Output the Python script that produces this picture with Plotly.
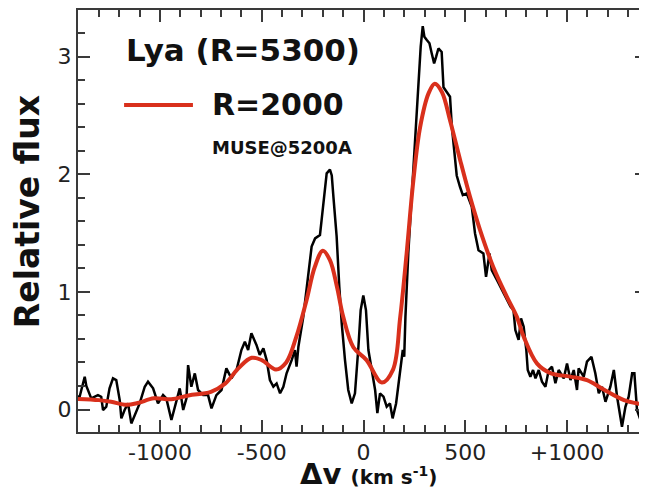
import plotly.graph_objects as go

# ---- data ----
v_obs = [-1403, -1395, -1370, -1362, -1338, -1305, -1289, -1280, -1264, -1248, -1231, -1215,
         -1198, -1190, -1174, -1157, -1141, -1116, -1100, -1075, -1059, -1034, -1010, -985,
         -969, -944, -919, -903, -886, -870, -862, -846, -829, -813, -788, -764, -747, -723,
         -698, -674, -649, -624, -600, -583, -567, -551, -526, -510, -492, -476, -460, -443,
         -427, -410, -394, -378, -353, -337, -329, -320, -296, -271, -255, -238, -222, -214,
         -206, -189, -181, -165, -156, -148, -132, -119, -107, -91, -75, -58, -42, -25, -14,
         -1, 12, 24, 40, 57, 68, 81, 98, 114, 130, 143, 160, 176, 193, 200, 206, 220, 237,
         245, 253, 270, 281, 291, 299, 311, 324, 335, 347, 357, 368, 384, 393, 409, 425, 434,
         450, 458, 474, 488, 507, 532, 548, 565, 589, 602, 619, 630, 656, 689, 704, 722, 737,
         746, 762, 774, 787, 800, 807, 820, 833, 845, 861, 877, 894, 910, 926, 943, 959, 984,
         1000, 1017, 1033, 1049, 1057, 1082, 1098, 1120, 1139, 1156, 1172, 1189, 1213, 1230,
         1246, 1262, 1270, 1287, 1303, 1320, 1331, 1344, 1361, 1377, 1393]
f_obs = [0.11, 0.109, 0.279, 0.20, 0.095, 0.123, 0.109, -0.004, 0.024, 0.180, 0.265, 0.251,
         0.080, -0.075, -0.004, 0.052, -0.118, -0.004, 0.052, 0.194, 0.237, 0.180, 0.052, 0.123,
         0.095, -0.089, 0.080, 0.180, -0.004, 0.095, 0.378, 0.194, 0.307, 0.166, 0.123, 0.123,
         0.010, 0.123, 0.166, 0.350, 0.265, 0.336, 0.506, 0.577, 0.506, 0.648, 0.549, 0.464,
         0.52, 0.42, 0.251, 0.194, 0.222, 0.138, 0.194, 0.308, 0.42, 0.506, 0.364, 0.534, 0.789,
         1.158, 1.385, 1.455, 1.47, 1.484, 1.61, 1.866, 2.008, 2.04, 1.99, 1.81, 1.47, 1.044,
         0.73, 0.42, 0.166, 0.052, 0.138, 0.534, 0.846, 0.97, 0.846, 0.506, 0.336, 0.166, -0.03,
         0.138, 0.11, 0.025, 0.052, -0.075, 0.052, 0.251, 0.506, 0.45, 0.79, 1.327, 1.838,
         2.093, 2.319, 2.80, 3.085, 3.26, 3.17, 3.142, 3.114, 3.03, 2.943, 3.0, 3.07, 3.04,
         2.74, 2.70, 2.66, 2.405, 2.12, 1.99, 1.894, 1.823, 1.838, 1.724, 1.497, 1.355, 1.327,
         1.129, 1.327, 1.185, 1.10, 0.988, 0.93, 0.875, 0.845, 0.676, 0.592, 0.775, 0.704,
         0.506, 0.336, 0.279, 0.336, 0.265, 0.336, 0.237, 0.194, 0.336, 0.364, 0.223, 0.336,
         0.265, 0.392, 0.251, 0.336, 0.166, 0.350, 0.279, 0.407, 0.449, 0.308, 0.138, 0.194,
         0.066, 0.194, 0.336, 0.109, -0.061, -0.146, 0.023, 0.109, 0.308, 0.308, -0.005,
         -0.089, -0.061, -0.019]

v_smooth = [-1403, -1300, -1240, -1165, -1110, -1030, -945, -860, -750, -680, -615, -550,
            -500, -430, -380, -330, -280, -240, -200, -165, -130, -100, -50, 15, 90, 145, 180,
            212, 245, 278, 320, 350, 385, 425, 475, 523, 572, 638, 704, 753, 787, 853, 918,
            1016, 1098, 1180, 1280, 1377, 1393]
f_smooth = [0.09, 0.08, 0.066, 0.04, 0.055, 0.095, 0.087, 0.12, 0.15, 0.22, 0.35, 0.44,
            0.42, 0.34, 0.40, 0.62, 0.93, 1.21, 1.35, 1.27, 1.04, 0.79, 0.53, 0.42, 0.23, 0.34,
            0.78, 1.33, 1.95, 2.40, 2.69, 2.77, 2.70, 2.46, 2.12, 1.81, 1.53, 1.21, 0.96, 0.79,
            0.62, 0.39, 0.31, 0.28, 0.25, 0.17, 0.08, 0.04, 0.03]

x_ticks = [-1000, -500, 0, 500, 1000]
x_ticktext = ["-1000", "-500", "0", "500", "+1000"]
y_ticks = [0, 1, 2, 3]

name_obs = "Lya (R=5300)"
name_smooth = "R=2000"
note = "MUSE@5200A"

RED = "#d9301c"
FONT = "DejaVu Sans"
AX = "#3a3a3a"

fig = go.Figure()
fig.add_trace(go.Scatter(x=v_obs, y=f_obs, mode="lines", name=name_obs,
                         line=dict(color="black", width=2.5), showlegend=False))
fig.add_trace(go.Scatter(x=v_smooth, y=f_smooth, mode="lines", name=name_smooth,
                         line=dict(color=RED, width=4, shape="spline", smoothing=1.0),
                         showlegend=False))

# legend-like labels
fig.add_annotation(text="<b>" + name_obs + "</b>", x=0.29, y=0.905, xref="paper", yref="paper",
                   showarrow=False, xanchor="center", yanchor="middle",
                   font=dict(family=FONT, size=31, color="#111"))
fig.add_shape(type="line", xref="paper", yref="paper", x0=0.081, x1=0.202, y0=0.775, y1=0.775,
              line=dict(color=RED, width=4))
fig.add_annotation(text="<b>" + name_smooth + "</b>", x=0.232, y=0.777, xref="paper", yref="paper",
                   showarrow=False, xanchor="left", yanchor="middle",
                   font=dict(family=FONT, size=30, color="#111"))
fig.add_annotation(text="<b>" + note + "</b>", x=0.232, y=0.673, xref="paper", yref="paper",
                   showarrow=False, xanchor="left", yanchor="middle",
                   font=dict(family=FONT, size=18, color="#111"))

# axis titles
fig.add_annotation(text="<b>Relative flux</b>", x=-0.0896, y=0.521, xref="paper", yref="paper",
                   showarrow=False, textangle=-90, xanchor="center", yanchor="middle",
                   font=dict(family=FONT, size=33, color="#111"))
fig.add_annotation(text="<b>Δv</b> <b><span style='font-size:20px'>(km s<sup>-1</sup>)</span></b>",
                   x=0.5097, y=-0.1420, xref="paper", yref="paper",
                   showarrow=False, xanchor="center", yanchor="bottom", borderpad=0,
                   font=dict(family=FONT, size=29, color="#111"))

# the page adds an 8px body margin, so the figure is 639x483 (no scrollbars) with margins shifted
fig.update_layout(
    width=639, height=483,
    margin=dict(l=70, r=0, t=2, b=59),
    paper_bgcolor="white", plot_bgcolor="white",
    showlegend=False,
)
fig.update_xaxes(
    range=[-1403, 1393], showgrid=False, zeroline=False, automargin=False,
    showline=True, linecolor=AX, linewidth=2, mirror="allticks",
    ticks="inside", ticklen=12, tickwidth=1.5, tickcolor=AX,
    tickmode="array", tickvals=x_ticks, ticktext=x_ticktext,
    minor=dict(ticks="inside", ticklen=7, tickwidth=1.5, tickcolor=AX,
               tickmode="linear", tick0=0, dtick=100, showgrid=False),
    tickfont=dict(family=FONT, size=22, color="#222"),
)
fig.update_yaxes(
    range=[-0.191, 3.397], showgrid=False, zeroline=False, automargin=False,
    showline=True, linecolor=AX, linewidth=2, mirror="allticks",
    ticks="inside", ticklen=12, tickwidth=1.5, tickcolor=AX,
    tickmode="array", tickvals=y_ticks,
    minor=dict(ticks="inside", ticklen=7, tickwidth=1.5, tickcolor=AX,
               tickmode="linear", tick0=0, dtick=0.2, showgrid=False),
    tickfont=dict(family=FONT, size=22, color="#222"),
)

fig.write_html("out.html")
